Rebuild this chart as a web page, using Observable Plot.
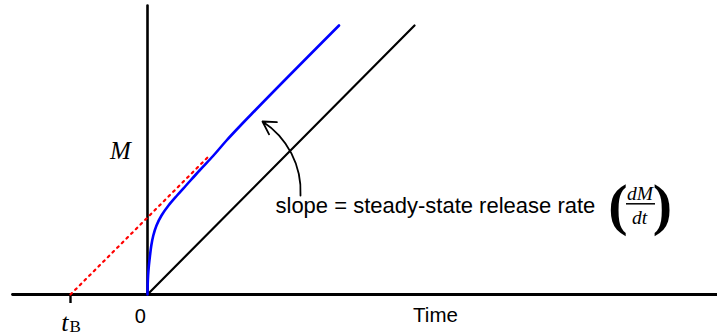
<!DOCTYPE html>
<html>
<head>
<meta charset="utf-8">
<script src="https://cdn.jsdelivr.net/npm/d3@7"></script>
<script src="https://cdn.jsdelivr.net/npm/@observablehq/plot@0.6"></script>
<style>
  body { margin: 0; background: #fff; }
  #chart svg { display: block; }
</style>
</head>
<body>
<div id="chart"></div>
<script>
// Cumulative mass released M against time: burst-type release curve,
// a zero-burst reference line and the steady-state extrapolation to t_B.
const tB = -0.77;                          // time-axis intercept of the steady-state line
const timeAxisExtent = [-1.35, 5.70];
const massAxisTop = 2.89;

const referenceT = [0, 2.67];
const referenceM = [0, 2.69];

const steadyT = [tB, 0.63];
const steadyM = [0, 1.40];

const releaseT = [0, 0.0015, 0.006, 0.014, 0.025, 0.038, 0.058, 0.09, 0.14, 0.21,
                  0.295, 0.385, 0.52, 0.66, 0.79, 0.93, 1.075, 1.915];
const releaseM = [0, 0.09, 0.19, 0.29, 0.39, 0.49, 0.59, 0.69, 0.79, 0.89,
                  0.99, 1.09, 1.24, 1.39, 1.54, 1.69, 1.84, 2.69];

const zip = (ts, ms) => ts.map((t, i) => ({t, m: ms[i]}));
const reference = zip(referenceT, referenceM);
const steady = zip(steadyT, steadyM);
const release = zip(releaseT, releaseM);

const sans = "Liberation Sans, Arial, sans-serif";
const serif = "Liberation Serif, Times New Roman, serif";

const chart = Plot.plot({
  width: 717,
  height: 336,
  marginLeft: 0,
  marginRight: 0,
  marginTop: 5,
  marginBottom: 0,
  x: {domain: [-1.47, 5.70], axis: null},
  y: {domain: [-0.42, massAxisTop], axis: null},
  marks: [
    // axes
    Plot.line(timeAxisExtent.map(t => ({t, m: 0})), {x: "t", y: "m", stroke: "#000", strokeWidth: 2.8}),
    Plot.line([{t: 0, m: 0}, {t: 0, m: massAxisTop}], {x: "t", y: "m", stroke: "#000", strokeWidth: 2.6}),
    Plot.ruleX([tB], {y1: 0, y2: -0.09, stroke: "#000", strokeWidth: 2.4}),

    // zero-burst reference line
    Plot.line(reference, {x: "t", y: "m", stroke: "#000", strokeWidth: 2.2}),
    // steady-state extrapolation
    Plot.line(steady, {x: "t", y: "m", stroke: "#ff0000", strokeWidth: 2.2, strokeDasharray: "2,4.6"}),
    // release curve
    Plot.line(release, {x: "t", y: "m", stroke: "#0000ff", strokeWidth: 2.6, curve: "monotone-y"}),

    // labels
    Plot.text(["M"], {x: -0.27, y: 1.44, fontFamily: serif, fontStyle: "italic", fontSize: 25, fill: "#000"}),
    Plot.text(["0"], {x: -0.073, y: -0.22, fontFamily: sans, fontSize: 20, fill: "#000"}),
    Plot.text(["Time"], {x: 2.88, y: -0.21, fontFamily: sans, fontSize: 20.5, fill: "#000"}),
    Plot.text(["t"], {x: -0.79, y: -0.36, textAnchor: "end", lineAnchor: "bottom", fontFamily: serif, fontStyle: "italic", fontSize: 26, fill: "#000"}),
    Plot.text(["B"], {x: -0.78, y: -0.375, textAnchor: "start", lineAnchor: "bottom", fontFamily: serif, fontSize: 17, fill: "#000"}),

    // slope annotation
    Plot.arrow([{x1: 1.53, y1: 0.99, x2: 1.15, y2: 1.73}], {
      x1: "x1", y1: "y1", x2: "x2", y2: "y2", bend: -30,
      stroke: "#000", strokeWidth: 1.8, headLength: 12
    }),
    Plot.text(["slope = steady-state release rate"], {x: 1.28, y: 0.82, textAnchor: "start", lineAnchor: "bottom", fontFamily: sans, fontSize: 22, fill: "#000"}),
    Plot.text(["("], {x: 4.705, y: 0.71, lineAnchor: "bottom", fontFamily: serif, fontWeight: "bold", fontSize: 58, fill: "#000"}),
    Plot.text([")"], {x: 5.15, y: 0.71, lineAnchor: "bottom", fontFamily: serif, fontWeight: "bold", fontSize: 58, fill: "#000"}),
    Plot.text(["dM"], {x: 4.925, y: 0.95, lineAnchor: "bottom", fontFamily: serif, fontStyle: "italic", fontSize: 19.5, fill: "#000"}),
    Plot.ruleY([0.907], {x1: 4.79, x2: 5.08, stroke: "#000", strokeWidth: 1.5}),
    Plot.text(["dt"], {x: 4.92, y: 0.71, lineAnchor: "bottom", fontFamily: serif, fontStyle: "italic", fontSize: 19.5, fill: "#000"})
  ]
});

document.getElementById("chart").append(chart);
</script>
</body>
</html>
